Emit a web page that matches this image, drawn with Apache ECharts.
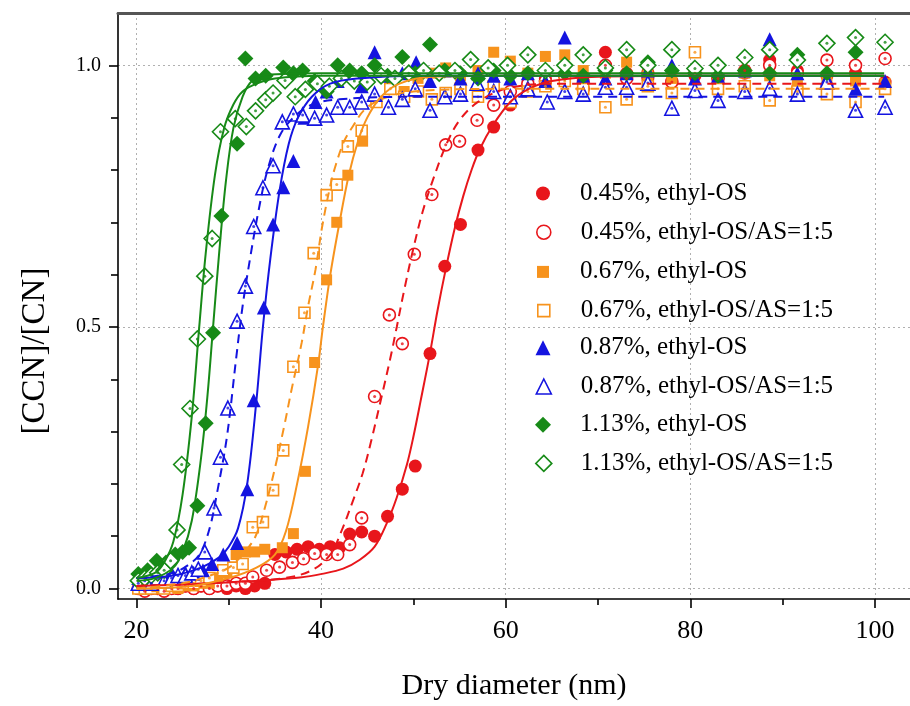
<!DOCTYPE html>
<html><head><meta charset="utf-8">
<script src="https://cdn.jsdelivr.net/npm/echarts@6/dist/echarts.min.js"></script>
<style>html,body{margin:0;padding:0;background:#fff}#c{width:910px;height:706px}</style>
</head><body><div id="c"></div>
<script>
const FONT = 'Liberation Serif';

const legendNames = ['0.45%, ethyl-OS', '0.45%, ethyl-OS/AS=1:5', '0.67%, ethyl-OS', '0.67%, ethyl-OS/AS=1:5',
  '0.87%, ethyl-OS', '0.87%, ethyl-OS/AS=1:5', '1.13%, ethyl-OS', '1.13%, ethyl-OS/AS=1:5'];
const xMajorTicks = [20, 40, 60, 80, 100];
const xMinorTicks = [30, 50, 70, 90];
const yMajorTicks = [0, 0.5, 1.0];
const yMinorTicks = [0.1, 0.2, 0.3, 0.4, 0.6, 0.7, 0.8, 0.9];

// ---- measured points ----
const red1X = [20.2,20.9,21.6,22.3,23.0,23.8,24.5,25.3,26.2,27.0,27.9,28.8,29.8,30.8,31.8,32.8,33.9,
  35.0,36.2,37.4,38.6,39.8,41.0,42.0,
  43.1,44.4,45.8,47.2,48.8,50.2,51.8,53.4,55.1,57.0,58.7,60.5,
  62.4,64.3,66.4,68.4,70.8,73.1,75.4,78.0,80.5,83.0,85.9,88.6,91.6,94.8,97.9,101.1];
const red1Y = [0.0,0.005,0.0,0.005,0.0,0.005,0.0,0.005,0.0,0.005,0.0,0.005,0.0,0.005,0.0,0.005,0.01,
  0.065,0.07,0.075,0.08,0.075,0.08,0.078,
  0.104,0.108,0.1,0.138,0.19,0.234,0.449,0.616,0.696,0.838,0.882,0.924,
  0.96,0.975,0.98,0.97,1.025,0.985,0.975,0.97,0.98,0.975,0.985,1.01,0.99,0.98,0.985,0.968];

const red2X = [20.2,20.9,21.6,22.3,23.0,23.8,24.5,25.3,26.2,27.0,27.9,28.8,29.8,30.8,31.8,
  32.6,34.1,35.5,36.9,38.1,39.3,40.6,41.8,43.1,44.4,
  45.8,47.4,48.8,50.1,52.0,53.5,55.0,56.9,58.7,
  60.5,62.4,64.3,66.4,68.4,70.8,73.1,75.4,78.0,80.5,83.0,85.9,88.6,91.6,94.8,97.9,101.1];
const red2Y = [0.0,-0.005,0.0,0.0,-0.005,0.0,0.0,0.005,0.0,0.005,0.0,0.005,0.005,0.01,0.01,
  0.022,0.035,0.041,0.05,0.057,0.067,0.065,0.065,0.084,0.135,
  0.367,0.523,0.468,0.639,0.753,0.848,0.855,0.895,0.924,
  0.95,0.965,0.97,0.98,0.955,1.0,0.975,0.985,0.968,0.985,0.975,0.99,1.0,0.985,1.01,1.0,1.013];

const org1X = [20.2,20.9,21.6,22.3,23.0,23.8,24.5,25.3,26.2,27.0,27.9,28.8,29.8,30.8,31.8,32.8,33.9,
  35.8,37.0,38.3,39.3,40.6,41.7,42.9,44.5,
  46.0,47.5,49.0,50.5,52.0,53.5,55.1,57.0,58.7,60.5,62.4,64.3,66.4,68.4,70.8,73.1,75.4,78.0,80.5,83.0,85.9,88.6,91.6,94.8,97.9,101.1];
const org1Y = [0.0,0.0,0.005,0.0,0.0,0.005,0.0,0.005,0.005,0.01,0.01,0.02,0.03,0.065,0.07,0.07,0.075,
  0.078,0.105,0.224,0.432,0.59,0.70,0.79,0.855,
  0.93,0.96,0.95,0.975,0.985,0.995,0.98,0.99,1.025,1.008,0.985,1.017,1.02,0.99,0.985,1.006,0.98,0.975,0.99,0.975,0.985,0.98,0.97,0.975,0.97,0.965];

const org2X = [20.2,20.9,21.6,22.3,23.0,23.8,24.5,25.3,26.2,27.0,27.9,29.4,30.5,31.5,
  32.6,33.7,34.8,35.9,37.0,38.2,39.2,40.6,41.7,42.9,44.4,
  46.0,47.5,49.0,50.5,52.0,53.5,55.1,57.0,58.7,60.5,62.4,64.3,66.4,68.4,70.8,73.1,75.4,78.0,80.5,83.0,85.9,88.6,91.6,94.8,97.9,101.1];
const org2Y = [0.0,0.0,0.0,0.005,0.0,0.005,0.005,0.01,0.01,0.015,0.02,0.035,0.04,0.047,
  0.117,0.127,0.188,0.264,0.424,0.527,0.641,0.752,0.772,0.845,0.875,
  0.93,0.955,0.94,0.95,0.935,0.947,0.955,0.94,0.96,0.93,0.95,0.96,0.97,0.955,0.92,0.935,0.96,0.947,1.025,0.955,0.96,0.933,0.95,0.945,0.93,0.955];

const blu1X = [20.2,20.9,21.6,22.3,23.0,23.8,24.5,25.3,26.2,27.2,28.2,
  29.4,30.9,32.0,32.7,33.8,34.8,35.9,37.0,
  38.2,39.4,40.6,41.8,43.1,44.4,45.8,47.2,48.8,50.3,51.8,53.4,55.1,57.0,58.7,60.5,62.4,64.3,66.4,68.4,70.8,73.1,75.4,78.0,80.5,83.0,85.9,88.6,91.6,94.8,97.9,101.1];
const blu1Y = [0.02,0.025,0.02,0.03,0.025,0.03,0.025,0.03,0.03,0.035,0.047,
  0.065,0.087,0.19,0.36,0.537,0.696,0.767,0.817,
  0.9,0.93,0.95,0.97,0.99,0.96,1.025,0.98,0.985,1.006,0.97,0.99,0.975,0.985,0.98,0.975,0.985,0.97,1.053,0.98,0.975,0.985,0.99,1.0,0.975,0.98,0.99,1.05,0.985,0.975,0.955,0.97];

const blu2X = [20.2,20.9,21.6,22.3,23.0,23.8,24.5,25.3,26.0,26.7,
  27.4,28.4,29.1,29.9,30.9,31.8,32.7,33.7,34.8,35.8,37.0,38.0,39.3,40.6,
  41.8,43.1,44.4,45.8,47.3,48.8,50.2,51.8,53.4,55.1,56.9,58.7,60.5,62.4,64.5,66.4,68.4,70.8,73.1,75.4,78.0,80.5,83.0,85.9,88.6,91.6,94.8,97.9,101.1];
const blu2Y = [0.01,0.015,0.01,0.02,0.015,0.02,0.025,0.025,0.03,0.037,
  0.07,0.154,0.251,0.345,0.511,0.578,0.692,0.766,0.808,0.892,0.907,0.905,0.899,0.905,
  0.92,0.92,0.93,0.945,0.92,0.935,0.955,0.914,0.94,0.945,0.966,0.95,0.94,0.955,0.93,0.95,0.945,0.958,0.958,0.966,0.918,0.952,0.933,0.95,0.956,0.945,0.968,0.914,0.92];

const grn1X = [20.2,21.2,22.2,23.2,24.2,25.0,25.7,
  26.6,27.5,28.3,29.2,30.9,31.8,32.9,34.0,35.9,37.0,38.0,39.3,40.6,
  41.8,43.1,44.4,45.8,47.2,48.8,50.2,51.8,53.4,55.1,57.0,58.7,60.5,62.4,64.3,66.4,68.4,70.8,73.1,75.4,78.0,80.5,83.0,85.9,88.6,91.6,94.8,97.9];
const grn1Y = [0.028,0.035,0.053,0.05,0.065,0.07,0.078,
  0.158,0.316,0.489,0.712,0.85,1.013,0.975,0.98,0.996,0.985,0.99,0.97,0.95,
  1.0,0.99,0.985,1.0,0.98,1.016,0.985,1.04,0.99,0.985,0.975,0.99,0.98,0.985,0.99,0.985,0.98,0.99,0.985,1.006,0.99,0.985,0.98,0.99,0.985,1.02,0.985,1.025];

const grn2X = [20.2,20.9,21.6,22.3,23.0,
  23.7,24.4,24.9,25.8,26.6,27.4,28.2,29.1,30.7,31.9,32.9,34.0,34.8,36.1,37.2,38.3,
  39.6,40.9,42.2,43.6,45.0,46.5,48.0,49.5,51.1,52.8,54.5,56.2,58.1,60.2,62.4,64.3,66.4,68.4,70.8,73.1,75.4,78.0,80.5,83.0,85.9,88.6,91.6,94.8,97.9,101.1];
const grn2Y = [0.015,0.02,0.025,0.03,0.035,
  0.053,0.112,0.237,0.344,0.477,0.597,0.669,0.873,0.898,0.883,0.913,0.934,0.947,0.971,0.94,0.954,
  0.965,0.96,0.975,0.97,0.968,0.98,0.975,0.985,0.99,0.985,0.99,1.011,0.995,1.0,1.02,0.99,1.0,1.02,0.995,1.03,1.0,1.03,0.994,1.0,1.015,1.03,1.01,1.042,1.053,1.044];

// ---- fitted curves ----
const fitRed1X = [20,26,30,34,37.7,40.1,42.4,44.2,45.8,47.1,48.2,49.3,50.0,50.8,51.8,52.6,53.5,54.5,55.4,56.3,57.2,58.6,60.5,62.5,65,70,80,101];
const fitRed1Y = [0.005,0.008,0.012,0.016,0.021,0.028,0.038,0.055,0.08,0.124,0.174,0.237,0.29,0.36,0.45,0.53,0.61,0.69,0.75,0.8,0.84,0.885,0.93,0.955,0.97,0.978,0.98,0.98];
const fitRed2X = [20,30,36,39,41,42.1,43.5,44.5,45.4,46.6,47.5,48.2,49,50,51,52.1,53.6,55,57,60,65,101];
const fitRed2Y = [0.005,0.012,0.02,0.035,0.065,0.105,0.17,0.22,0.28,0.37,0.44,0.5,0.57,0.65,0.72,0.78,0.85,0.895,0.93,0.955,0.965,0.965];
const fitOrg1X = [20,26,30,33,35,36.2,37.4,38.6,39.7,40.2,41.0,42.0,43.0,44.0,45.0,46.5,48.5,52,60,101];
const fitOrg1Y = [0.0,0.005,0.02,0.04,0.065,0.11,0.2,0.31,0.43,0.5,0.6,0.7,0.79,0.855,0.9,0.94,0.965,0.978,0.98,0.98];
const fitOrg2X = [20,25,28,30,31.5,32.9,34,35,36,36.8,37.9,38.6,39.4,40.1,41.0,41.6,42.5,43.5,44.7,46.5,50,60,101];
const fitOrg2Y = [0.0,0.01,0.025,0.04,0.065,0.1,0.16,0.23,0.31,0.38,0.47,0.54,0.61,0.69,0.77,0.81,0.855,0.885,0.915,0.935,0.95,0.955,0.955];
const fitBlu1X = [20,24,27,29,30,31,32,33,33.7,34.5,35.5,36.5,37.5,39,41,44,50,101];
const fitBlu1Y = [0.02,0.025,0.04,0.06,0.08,0.115,0.2,0.36,0.5,0.63,0.76,0.85,0.9,0.94,0.965,0.975,0.98,0.98];
const fitBlu2X = [20,24,26,27,28,28.7,29.8,30.8,31.5,32.3,33.2,34.2,35.5,37,39,42,50,101];
const fitBlu2Y = [0.02,0.03,0.05,0.07,0.12,0.18,0.29,0.44,0.54,0.63,0.72,0.8,0.865,0.9,0.925,0.935,0.94,0.94];
const fitGrn1X = [20,22,24,25,26,27,27.7,28.3,29,29.7,30.5,31.5,32.5,34,40,101];
const fitGrn1Y = [0.015,0.02,0.04,0.07,0.13,0.25,0.37,0.5,0.65,0.78,0.88,0.94,0.97,0.982,0.985,0.985];
const fitGrn2X = [20,22,23,24,25,26,26.8,27.5,28.5,29.5,30.5,31.5,33,35,40,101];
const fitGrn2Y = [0.02,0.03,0.05,0.09,0.18,0.33,0.5,0.64,0.79,0.88,0.925,0.95,0.965,0.975,0.98,0.98];

const zip = (xs, ys) => xs.slice(0, Math.min(xs.length, ys.length)).map((x, i) => [x, ys[i]]);

const RED = '#e8161b', ORG = '#f7931d', BLU = '#1414e0', GRN = '#178a17';
const pts = [
  {name: legendNames[0], x: red1X, y: red1Y, c: RED, sym: 'circle', size: 13, open: false},
  {name: legendNames[1], x: red2X, y: red2Y, c: RED, sym: 'circle', size: 12, open: true},
  {name: legendNames[2], x: org1X, y: org1Y, c: ORG, sym: 'rect', size: 11, open: false},
  {name: legendNames[3], x: org2X, y: org2Y, c: ORG, sym: 'rect', size: 11, open: true},
  {name: legendNames[4], x: blu1X, y: blu1Y, c: BLU, sym: 'triangle', size: 14, open: false},
  {name: legendNames[5], x: blu2X, y: blu2Y, c: BLU, sym: 'triangle', size: 14, open: true},
  {name: legendNames[6], x: grn1X, y: grn1Y, c: GRN, sym: 'diamond', size: 16, open: false},
  {name: legendNames[7], x: grn2X, y: grn2Y, c: GRN, sym: 'diamond', size: 16, open: true}
];
const legendSizes = [14, 14, 12, 12, 15, 15, 16, 16];
const fits = [
  {x: fitRed1X, y: fitRed1Y, c: RED, dash: 'solid'},
  {x: fitRed2X, y: fitRed2Y, c: RED, dash: [9, 6]},
  {x: fitOrg1X, y: fitOrg1Y, c: ORG, dash: 'solid'},
  {x: fitOrg2X, y: fitOrg2Y, c: ORG, dash: [9, 6]},
  {x: fitBlu1X, y: fitBlu1Y, c: BLU, dash: 'solid'},
  {x: fitBlu2X, y: fitBlu2Y, c: BLU, dash: [9, 6]},
  {x: fitGrn1X, y: fitGrn1Y, c: GRN, dash: 'solid'},
  {x: fitGrn2X, y: fitGrn2Y, c: GRN, dash: 'solid'}
];

const series = [];
pts.forEach((p, i) => {
  series.push({
    type: 'scatter', name: p.name, data: zip(p.x, p.y), symbol: p.sym, symbolSize: p.size,
    itemStyle: p.open ? {color: '#ffffff', borderColor: p.c, borderWidth: 1.6, opacity: 1}
                      : {color: p.c, opacity: 1},
    z: 2 + i * 0.01, silent: true
  });
});
pts.forEach((p) => {
  if (p.open) series.push({
    type: 'scatter', name: p.name, data: zip(p.x, p.y), symbol: 'circle', symbolSize: 3,
    itemStyle: {color: p.c}, z: 2.5, silent: true
  });
});
fits.forEach((f, i) => {
  series.push({
    type: 'line', name: 'fit' + i, data: zip(f.x, f.y), showSymbol: false, symbol: 'none',
    smooth: 0.35, lineStyle: {color: f.c, width: 2, type: f.dash}, z: 3 + i * 0.01, silent: true
  });
});

const XMIN = 18, XMAX = 103.8, YMIN = -0.02, YMAX = 1.1;
const lab = {fontFamily: FONT, color: '#000'};
const LEG_FS = 25;
const legends = pts.map((p, i) => ({
  data: [{name: p.name, icon: p.sym,
          itemStyle: p.open ? {color: '#fff', borderColor: p.c, borderWidth: 1.6} : {color: p.c}}],
  orient: 'vertical', left: 543 - legendSizes[i] / 2, top: 188 + i * 38.7 - legendSizes[i] / 2,
  itemWidth: legendSizes[i], itemHeight: legendSizes[i], selectedMode: false, padding: 0,
  textStyle: {fontFamily: FONT, fontSize: LEG_FS, color: '#000',
              padding: [0, 0, 0, 580 - (543 + legendSizes[i] / 2) - 5]}
}));
const option = {
  animation: false,
  backgroundColor: '#ffffff',
  grid: {left: 118, right: 0, top: 13, bottom: 105, containLabel: false},
  legend: legends,
  xAxis: [
    {type: 'value', min: XMIN, max: XMAX, position: 'bottom',
     name: 'Dry diameter (nm)', nameLocation: 'middle', nameGap: 72,
     nameTextStyle: {fontFamily: FONT, fontSize: 30, color: '#000'},
     axisLine: {show: true, onZero: false, lineStyle: {color: '#000', width: 1.6}},
     axisTick: {show: true, inside: false, length: 9, customValues: xMajorTicks, lineStyle: {color: '#000', width: 1.6}},
     axisLabel: {show: true, customValues: xMajorTicks, fontSize: 26, margin: 19, ...lab},
     splitLine: {show: true, lineStyle: {color: '#b0b0b0', type: [2, 3], width: 1}}},
    {type: 'value', min: XMIN, max: XMAX, position: 'bottom',
     axisLine: {show: false, onZero: false},
     axisTick: {show: true, inside: false, length: 6, customValues: xMinorTicks, lineStyle: {color: '#000', width: 1.6}},
     axisLabel: {show: false}, splitLine: {show: false}},
    {type: 'value', min: XMIN, max: XMAX, position: 'top',
     axisLine: {show: true, onZero: false, lineStyle: {color: '#555', width: 3}},
     axisTick: {show: false}, axisLabel: {show: false}, splitLine: {show: false}}
  ],
  yAxis: [
    {type: 'value', min: YMIN, max: YMAX, position: 'left',
     name: '[CCN]/[CN]', nameLocation: 'middle', nameGap: 66,
     nameTextStyle: {fontFamily: FONT, fontSize: 33, color: '#000', padding: [0, 90, 0, 0]},
     axisLine: {show: true, onZero: false, lineStyle: {color: '#000', width: 1.6}},
     axisTick: {show: true, inside: false, length: 9, customValues: yMajorTicks, lineStyle: {color: '#000', width: 1.6}},
     axisLabel: {show: true, customValues: yMajorTicks, fontSize: 20, margin: 17, ...lab,
                 formatter: v => v.toFixed(1)},
     splitLine: {show: true, lineStyle: {color: '#b0b0b0', type: [2, 3], width: 1}}},
    {type: 'value', min: YMIN, max: YMAX, position: 'left',
     axisLine: {show: false, onZero: false},
     axisTick: {show: true, inside: false, length: 7, customValues: yMinorTicks, lineStyle: {color: '#000', width: 1.6}},
     axisLabel: {show: false}, splitLine: {show: false}}
  ],
  series: series
};
const chart = echarts.init(document.getElementById('c'), null, {renderer: 'canvas'});
chart.setOption(option);
</script></body></html>
